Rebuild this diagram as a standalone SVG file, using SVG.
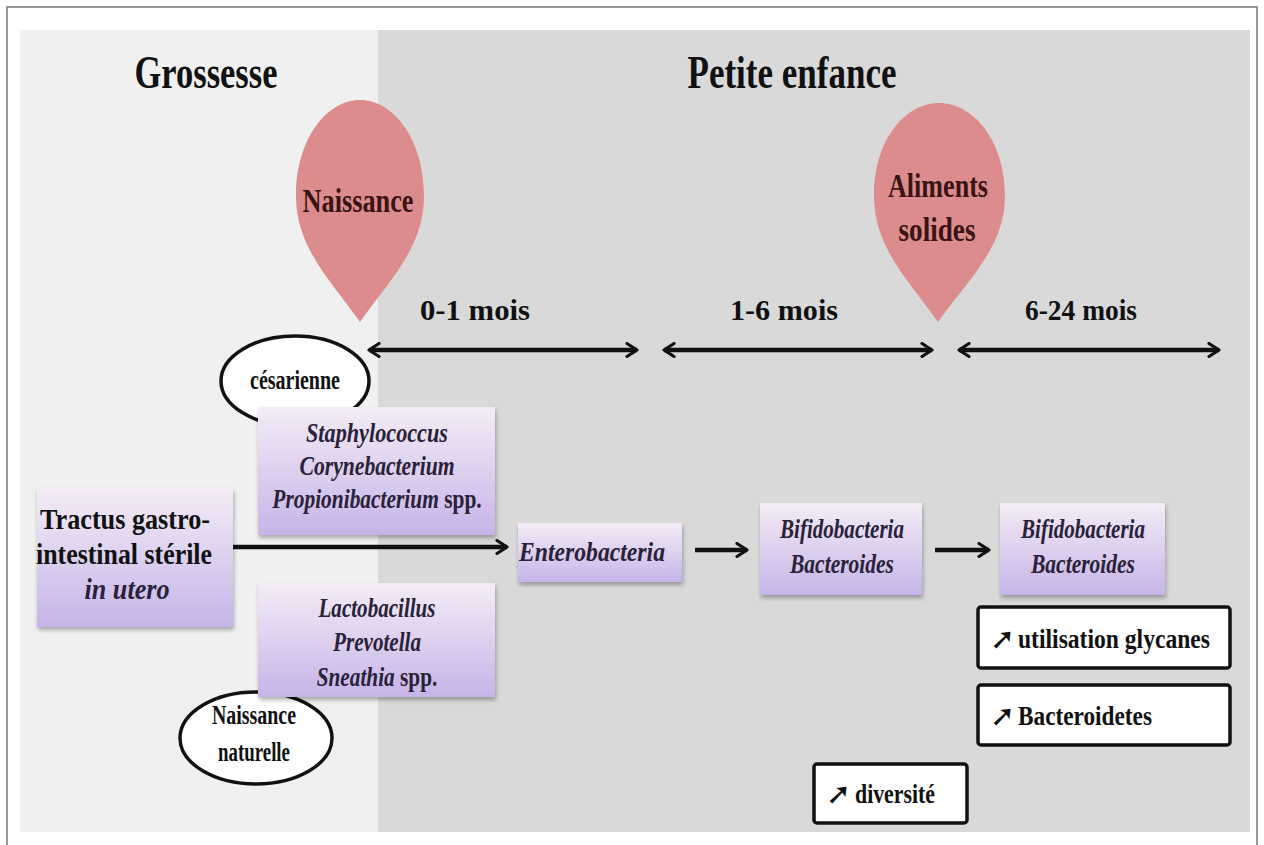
<svg xmlns="http://www.w3.org/2000/svg" width="1264" height="845" viewBox="0 0 1264 845">
<defs>
<linearGradient id="lav" x1="0" y1="0" x2="0" y2="1">
<stop offset="0" stop-color="#f4ecf6"/>
<stop offset="1" stop-color="#c6b4e8"/>
</linearGradient>
<filter id="sh" x="-10%" y="-10%" width="125%" height="130%">
<feDropShadow dx="1" dy="3" stdDeviation="2" flood-color="#000" flood-opacity="0.3"/>
</filter>
<marker id="ah" viewBox="0 0 16 16" refX="13" refY="8" markerWidth="16" markerHeight="16" markerUnits="userSpaceOnUse" orient="auto-start-reverse">
<path d="M3,1.5 L13,8 L3,14.5" fill="none" stroke="#111" stroke-width="3.2" stroke-linecap="round" stroke-linejoin="round"/>
</marker>
</defs>
<style>
.t{font-family:"Liberation Serif",serif;font-weight:bold;fill:#111;}
.i{font-family:"Liberation Serif",serif;font-weight:bold;font-style:italic;fill:#2a2238;}
.box{fill:url(#lav);filter:url(#sh);}
.wb{fill:#fff;stroke:#111;stroke-width:3.5;}
.drop{fill:#dc8c8c;}
.dt{font-family:"Liberation Serif",serif;font-weight:bold;fill:#3a1414;}
.ell{fill:#fff;stroke:#111;stroke-width:3.5;}
.ln{stroke:#111;stroke-width:4.5;fill:none;}
.ic{font-family:"DejaVu Sans",sans-serif;font-weight:bold;fill:#111;}
</style>
<rect x="0" y="0" width="1264" height="845" fill="#fff"/>
<path d="M7,845 V7 H1257 V845" fill="none" stroke="#777" stroke-width="1.5"/>
<g id="background">
<rect x="20" y="30" width="358" height="802" fill="#f0f0f0"/>
<rect x="378" y="30" width="872" height="802" fill="#d9d9d9"/>
</g>
<g id="titles">
<text class="t" x="206" y="88" font-size="46" text-anchor="middle" textLength="143" lengthAdjust="spacingAndGlyphs">Grossesse</text>
<text class="t" x="792" y="88" font-size="46" text-anchor="middle" textLength="209" lengthAdjust="spacingAndGlyphs">Petite enfance</text>
</g>
<g id="naissance-drop">
<path class="drop" d="M360,322 C332,282 296,248 296,196 C296,140 326,100 360,100 C394,100 424,140 424,196 C424,248 388,282 360,322 Z"/>
<text class="dt" x="358" y="212" font-size="34" text-anchor="middle" textLength="111" lengthAdjust="spacingAndGlyphs">Naissance</text>
</g>
<g id="aliments-drop">
<path class="drop" d="M938,322 C910,282 874,248 874,196 C874,140 905,103 939,103 C973,103 1005,140 1005,196 C1005,248 966,282 938,322 Z"/>
<text class="dt" x="938" y="197" font-size="34" text-anchor="middle" textLength="100" lengthAdjust="spacingAndGlyphs">Aliments</text>
<text class="dt" x="937" y="241" font-size="34" text-anchor="middle" textLength="77" lengthAdjust="spacingAndGlyphs">solides</text>
</g>
<g id="periods">
<text class="t" x="475" y="320" font-size="30" text-anchor="middle" textLength="110" lengthAdjust="spacingAndGlyphs">0-1 mois</text>
<text class="t" x="784" y="320" font-size="30" text-anchor="middle" textLength="108" lengthAdjust="spacingAndGlyphs">1-6 mois</text>
<text class="t" x="1081" y="320" font-size="30" text-anchor="middle" textLength="112" lengthAdjust="spacingAndGlyphs">6-24 mois</text>
</g>
<g id="connectors">
<line class="ln" x1="369" y1="350" x2="637" y2="350" marker-start="url(#ah)" marker-end="url(#ah)"/>
<line class="ln" x1="664" y1="350" x2="932" y2="350" marker-start="url(#ah)" marker-end="url(#ah)"/>
<line class="ln" x1="959" y1="350" x2="1219" y2="350" marker-start="url(#ah)" marker-end="url(#ah)"/>
<line class="ln" x1="233" y1="547" x2="507" y2="547" marker-end="url(#ah)"/>
<line class="ln" x1="695" y1="550" x2="747" y2="550" marker-end="url(#ah)"/>
<line class="ln" x1="935" y1="550" x2="989" y2="550" marker-end="url(#ah)"/>
</g>
<g id="cesarienne">
<ellipse class="ell" cx="295" cy="381" rx="74" ry="45"/>
<text class="t" x="295" y="389" font-size="27" text-anchor="middle" textLength="90" lengthAdjust="spacingAndGlyphs">césarienne</text>
</g>
<g id="naissance-naturelle">
<ellipse class="ell" cx="256" cy="738" rx="76" ry="46"/>
<text class="t" x="254" y="724" font-size="27" text-anchor="middle" textLength="84" lengthAdjust="spacingAndGlyphs">Naissance</text>
<text class="t" x="254" y="761" font-size="27" text-anchor="middle" textLength="72" lengthAdjust="spacingAndGlyphs">naturelle</text>
</g>
<g id="staph">
<rect class="box" x="258" y="407" width="237" height="128"/>
<text class="i" x="377" y="442" font-size="28" text-anchor="middle" textLength="142" lengthAdjust="spacingAndGlyphs">Staphylococcus</text>
<text class="i" x="377" y="475" font-size="28" text-anchor="middle" textLength="155" lengthAdjust="spacingAndGlyphs">Corynebacterium</text>
<text class="i" transform="translate(377,508) scale(0.765,1)" font-size="28" text-anchor="middle">Propionibacterium <tspan font-style="normal">spp.</tspan></text>
</g>
<g id="lacto">
<rect class="box" x="258" y="583" width="237" height="114"/>
<text class="i" x="377" y="617" font-size="28" text-anchor="middle" textLength="117" lengthAdjust="spacingAndGlyphs">Lactobacillus</text>
<text class="i" x="377" y="651" font-size="28" text-anchor="middle" textLength="88" lengthAdjust="spacingAndGlyphs">Prevotella</text>
<text class="i" transform="translate(377,686) scale(0.76,1)" font-size="28" text-anchor="middle">Sneathia <tspan font-style="normal">spp.</tspan></text>
</g>
<g id="tractus">
<rect class="box" x="37" y="488" width="196" height="139"/>
<text class="t" x="125" y="529" font-size="29" text-anchor="middle" textLength="170" lengthAdjust="spacingAndGlyphs">Tractus gastro-</text>
<text class="t" x="124" y="564" font-size="29" text-anchor="middle" textLength="176" lengthAdjust="spacingAndGlyphs">intestinal stérile</text>
<text class="i" x="127" y="599" font-size="29" text-anchor="middle" textLength="85" lengthAdjust="spacingAndGlyphs">in utero</text>
</g>
<g id="enterobacteria">
<rect class="box" x="518" y="523" width="164" height="59"/>
<text class="i" x="592" y="561" font-size="27" text-anchor="middle" textLength="146" lengthAdjust="spacingAndGlyphs">Enterobacteria</text>
</g>
<g id="bifido1">
<rect class="box" x="760" y="503" width="162" height="92"/>
<text class="i" x="842" y="538" font-size="27" text-anchor="middle" textLength="124" lengthAdjust="spacingAndGlyphs">Bifidobacteria</text>
<text class="i" x="842" y="573" font-size="27" text-anchor="middle" textLength="104" lengthAdjust="spacingAndGlyphs">Bacteroides</text>
</g>
<g id="bifido2">
<rect class="box" x="1000" y="503" width="165" height="92"/>
<text class="i" x="1083" y="538" font-size="27" text-anchor="middle" textLength="124" lengthAdjust="spacingAndGlyphs">Bifidobacteria</text>
<text class="i" x="1083" y="573" font-size="27" text-anchor="middle" textLength="104" lengthAdjust="spacingAndGlyphs">Bacteroides</text>
</g>
<g id="glycanes">
<rect class="wb" x="978" y="607" width="252" height="61" rx="3"/>
<text class="ic" x="990" y="649" font-size="30">➚</text>
<text class="t" x="1018" y="648" font-size="28" textLength="192" lengthAdjust="spacingAndGlyphs">utilisation glycanes</text>
</g>
<g id="bacteroidetes">
<rect class="wb" x="978" y="685" width="252" height="60" rx="3"/>
<text class="ic" x="990" y="726" font-size="30">➚</text>
<text class="t" x="1018" y="725" font-size="28" textLength="134" lengthAdjust="spacingAndGlyphs">Bacteroidetes</text>
</g>
<g id="diversite">
<rect class="wb" x="814" y="764" width="153" height="59" rx="3"/>
<text class="ic" x="826" y="804" font-size="30">➚</text>
<text class="t" x="855" y="803" font-size="28" textLength="80" lengthAdjust="spacingAndGlyphs">diversité</text>
</g>
</svg>
